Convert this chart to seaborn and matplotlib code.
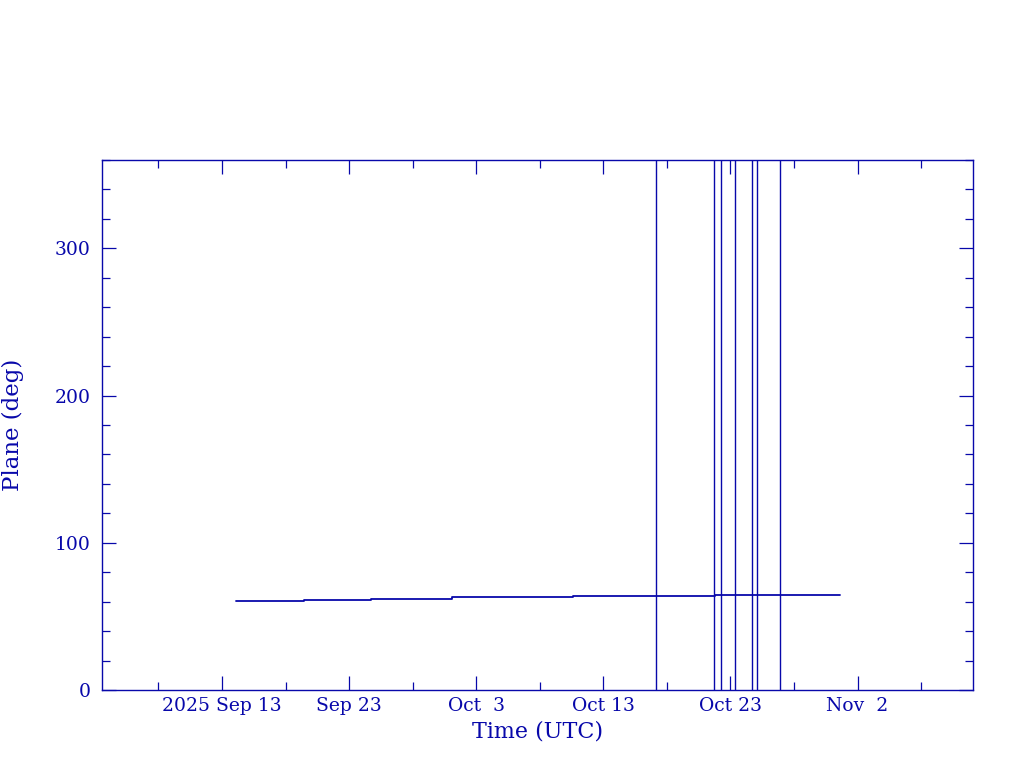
import pandas as pd
import matplotlib
matplotlib.use('Agg')
import matplotlib.pyplot as plt
import matplotlib.dates as mdates
from matplotlib.ticker import MultipleLocator, FixedLocator
import seaborn as sb

# orbital plane vs time (step-wise)
times = ['2025-09-14 02:00', '2025-09-14 21:00', '2025-09-19 10:00', '2025-09-24 17:00',
         '2025-10-01 03:00', '2025-10-10 14:00', '2025-10-11 22:00', '2025-10-21 18:00',
         '2025-10-25 02:00', '2025-10-31 15:00']
plane = [60.25, 60.66, 61.34, 62.0, 62.97, 63.65, 63.9, 64.2, 64.4, 64.5]

# event markers (full-height vertical lines)
events = ['2025-10-17 04:00', '2025-10-21 17:30', '2025-10-22 07:00', '2025-10-23 09:00',
          '2025-10-24 17:00', '2025-10-25 03:00', '2025-10-26 22:00']

tick_dates = ['2025-09-13', '2025-09-23', '2025-10-03', '2025-10-13', '2025-10-23', '2025-11-02']
tick_labels = ['2025 Sep 13', 'Sep 23', 'Oct  3', 'Oct 13', 'Oct 23', 'Nov  2']

df = pd.DataFrame({'time': pd.to_datetime(times), 'plane': plane})

sb.set_style('white')
plt.rcParams['font.family'] = ['DejaVu Serif']
blue = '#0808AA'

fig = plt.figure(figsize=(10.24, 7.68), dpi=100)
ax = fig.add_axes([0.0996, 0.1016, 0.8506, 0.6901])

sb.lineplot(data=df, x='time', y='plane', drawstyle='steps-post', color=blue,
            linewidth=1.3, estimator=None, sort=False, ax=ax)
for e in events:
    ax.axvline(pd.Timestamp(e), color=blue, linewidth=1.0)

ax.set_xlim(pd.Timestamp('2025-09-03 13:30'), pd.Timestamp('2025-11-11 02:00'))
ax.set_ylim(0, 360)

major = [mdates.date2num(pd.Timestamp(d)) for d in tick_dates]
minor = [m + 5 for m in major] + [major[0] - 5]
ax.xaxis.set_major_locator(FixedLocator(major))
ax.xaxis.set_minor_locator(FixedLocator(minor))
ax.set_xticklabels(tick_labels)
ax.yaxis.set_major_locator(MultipleLocator(100))
ax.yaxis.set_minor_locator(MultipleLocator(20))

ax.tick_params(which='both', direction='in', top=True, right=True, bottom=True, left=True,
               colors=blue, labelsize=13.5, width=0.9)
ax.tick_params(axis='x', pad=5)
ax.tick_params(axis='y', pad=8)
ax.tick_params(which='major', length=10)
ax.tick_params(which='minor', length=6)
for s in ax.spines.values():
    s.set_color(blue)
    s.set_linewidth(1.0)

ax.set_xlabel('Time (UTC)', fontsize=16, color=blue, labelpad=4)
ax.set_ylabel('Plane (deg)', fontsize=16.5, color=blue, labelpad=22)

fig.savefig('out.png', dpi=100, facecolor='white')
